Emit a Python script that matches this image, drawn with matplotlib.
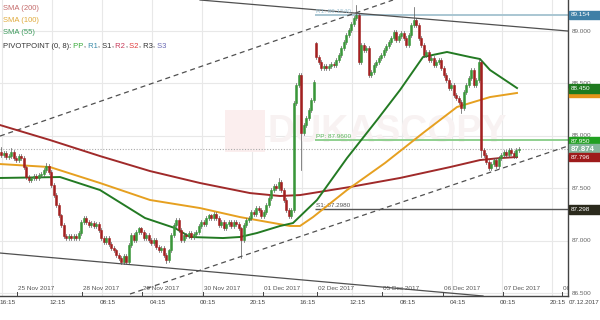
import matplotlib
matplotlib.use("Agg")
import matplotlib.pyplot as plt
from matplotlib.patches import Rectangle
from matplotlib.transforms import blended_transform_factory

plt.rcParams['font.family'] = ['Liberation Sans', 'DejaVu Sans']

# ---- hourly closes ----
closes = [
    87.817, 87.836, 87.798, 87.807, 87.846, 87.788, 87.769, 87.807, 87.788, 87.702,
    87.607, 87.578, 87.597, 87.617, 87.597, 87.626, 87.636, 87.674, 87.712, 87.655,
    87.531, 87.435, 87.340, 87.244, 87.149, 87.044, 87.025, 87.044, 87.025, 87.044,
    87.025, 87.073, 87.178, 87.216, 87.178, 87.149, 87.168, 87.140, 87.159, 87.101,
    87.025, 86.987, 87.025, 86.968, 86.930, 86.910, 86.863, 86.834, 86.796, 86.853,
    86.796, 86.958, 87.054, 87.006, 87.082, 87.120, 87.082, 87.025, 87.054, 87.006,
    86.977, 87.006, 86.939, 86.910, 86.930, 86.863, 86.815, 86.910, 87.054, 87.149,
    87.197, 87.101, 87.006, 87.054, 87.044, 87.073, 87.035, 87.063, 87.082, 87.140,
    87.178, 87.159, 87.216, 87.244, 87.216, 87.254, 87.216, 87.149, 87.178, 87.120,
    87.159, 87.178, 87.140, 87.178, 87.159, 87.120, 87.006, 87.149, 87.197, 87.216,
    87.273, 87.254, 87.311, 87.292, 87.235, 87.273, 87.340, 87.407, 87.483, 87.521,
    87.502, 87.559, 87.483, 87.388, 87.292, 87.235, 87.292, 88.313, 88.485, 88.580,
    88.027, 88.103, 88.170, 88.246, 88.342, 88.514, 88.752, 88.704, 88.647, 88.666,
    88.647, 88.666, 88.685, 88.676, 88.723, 88.771, 88.838, 88.895, 88.962, 89.010,
    89.067, 89.124, 89.153, 88.704, 88.867, 88.819, 88.838, 88.580, 88.609, 88.676,
    88.704, 88.743, 88.771, 88.819, 88.857, 88.895, 88.933, 88.991, 88.914, 88.952,
    88.981, 88.933, 88.867, 88.962, 89.057, 89.105, 89.057, 88.933, 88.867, 88.771,
    88.800, 88.723, 88.743, 88.676, 88.704, 88.723, 88.647, 88.580, 88.533, 88.456,
    88.485, 88.390, 88.361, 88.323, 88.266, 88.418, 88.485, 88.552, 88.628, 88.485,
    88.533, 88.704, 87.865, 87.817, 87.750, 87.693, 87.731, 87.769, 87.712, 87.788,
    87.817, 87.846, 87.817, 87.865, 87.836, 87.807, 87.865, 87.874,
]
first_open = 87.850
session_opens = {126: 88.886}
wick_default = 0.015
high_marks = {0: 87.893, 4: 87.884, 18: 87.741, 111: 87.598, 126: 88.895,
              142: 89.248, 165: 89.229, 191: 88.733, 117: 88.330}
low_marks = {50: 86.777, 66: 86.790, 96: 86.834, 120: 87.674, 184: 88.218,
             192: 87.798, 194: 87.730}

# ---- moving averages: (candle position, price) ----
sma200_x = [0, 20, 40, 60, 80, 100, 112, 120, 140, 160, 180, 192, 200, 206.8]
sma200_y = [88.103, 87.960, 87.807, 87.664, 87.550, 87.454, 87.426, 87.435,
            87.512, 87.598, 87.702, 87.769, 87.788, 87.798]
sma100_x = [0, 20, 40, 60, 80, 96, 116, 120, 125.2, 138.8, 154, 169.2, 182.8, 196, 206.8]
sma100_y = [87.731, 87.702, 87.550, 87.388, 87.311, 87.225, 87.140, 87.140,
            87.225, 87.483, 87.741, 88.027, 88.275, 88.370, 88.409]
sma55_x = [0, 24, 40, 58, 70, 76, 89.2, 96, 102.8, 112, 117.2, 126.8, 138.8,
           150.8, 160, 169.2, 178.8, 188, 192, 196, 206.8]
sma55_y = [87.598, 87.607, 87.483, 87.216, 87.120, 87.035, 87.025, 87.035,
           87.073, 87.140, 87.168, 87.388, 87.788, 88.151, 88.437, 88.752,
           88.800, 88.752, 88.733, 88.628, 88.456]

# ---- pivot levels ----
pivot_names = ['R1', 'PP', 'S1']
pivot_values = [89.1540, 87.9600, 87.2980]
pivot_colors = ['#a9c6d2', '#8fd08f', '#555555']
pivot_text_colors = ['#9cc0d0', '#5cb85c', '#555555']
pivot_start = 126

# ---- trend channels: ((x0, p0), (x1, p1)) ----
solid_channels = [((80.0, 89.296), (227.2, 89.000)),
                  ((0.0, 86.882), (193.2, 86.472))]
dashed_channels = [((0.0, 87.998), (157.2, 89.296)),
                   ((52.0, 86.491), (227.2, 87.903))]

last_price = 87.874

# ---- axis labels ----
price_ticks = [86.5, 87.0, 87.5, 88.0, 88.5, 89.0]
date_labels = ['25 Nov 2017', '28 Nov 2017', '29 Nov 2017', '30 Nov 2017',
               '01 Dec 2017', '02 Dec 2017', '05 Dec 2017', '06 Dec 2017',
               '07 Dec 2017', '08 Dec 2017']
date_pos = [6.8, 32.8, 56.8, 81.2, 105.2, 126.8, 152.8, 177.2, 201.2, 224.8]
time_labels = ['16:15', '12:15', '08:15', '04:15', '00:15', '20:15',
               '16:15', '12:15', '08:15', '04:15', '00:15', '20:15']
time_pos = [3.0 + 20 * k for k in range(12)]
grid_x = [0.8 + 20 * k for k in range(12)]

tag_values = [89.154, 88.450, 87.950, 87.874, 87.796, 87.298]
tag_colors = ['#3f7fa6', '#1f7a1f', '#21a021', '#85b59b', '#9e1b1b', '#2b2a1c']

W, H = 600, 320
fig = plt.figure(figsize=(W / 100, H / 100), dpi=100)
fig.patch.set_facecolor('white')
ax_left, ax_right, ax_bottom, ax_top = 0, 568, 296, 0
ax = fig.add_axes([ax_left / W, (H - ax_bottom) / H, (ax_right - ax_left) / W,
                   (ax_bottom - ax_top) / H])
ymin, ymax = 86.472, 89.296
xmax = 227.2
ax.set_xlim(0, xmax)
ax.set_ylim(ymin, ymax)
for s in ['top', 'left']:
    ax.spines[s].set_visible(False)
ax.spines['right'].set_color('#444444')
ax.spines['bottom'].set_color('#444444')
ax.spines['right'].set_linewidth(1.0)
ax.spines['bottom'].set_linewidth(1.0)
ax.set_xticks([])
ax.set_yticks([])

# grid
for p in price_ticks:
    ax.axhline(p, color='#e8e8e8', lw=0.8, zorder=0)
for gx in grid_x:
    ax.axvline(gx, color='#e8e8e8', lw=0.8, zorder=0)

# watermark
ax.add_patch(Rectangle((90, 87.85), 16, 0.40, color='#fbeeee', zorder=0.5, lw=0))
ax.text(107, 88.04, 'DUKASCOPY', fontsize=27, fontweight='bold', color='#f8f2f2',
        va='center', ha='left', zorder=0.5)

# current price dotted line
ax.axhline(last_price, color='#aaaaaa', lw=0.8, ls=(0, (1, 1.5)), zorder=1)

# pivot lines
for name, val, col, tcol in zip(pivot_names, pivot_values, pivot_colors, pivot_text_colors):
    ax.plot([pivot_start, xmax], [val, val], color=col, lw=1.4 if name != 'S1' else 1.0,
            zorder=2, solid_capstyle='butt')
    ax.text(pivot_start + 0.6, val + 0.012, f'{name}: {val:.4f}', fontsize=4.6,
            color=tcol, va='bottom', ha='left', zorder=3)

# trend channels
for (a, b) in solid_channels:
    ax.plot([a[0], b[0]], [a[1], b[1]], color='#505050', lw=0.9, zorder=2)
for (a, b) in dashed_channels:
    ax.plot([a[0], b[0]], [a[1], b[1]], color='#505050', lw=0.9, zorder=2,
            dashes=(4, 3))

# moving averages
ax.plot(sma200_x, sma200_y, color='#a02a2a', lw=1.4, zorder=4)
ax.plot(sma100_x, sma100_y, color='#e6a020', lw=1.4, zorder=4)
ax.plot(sma55_x, sma55_y, color='#237a23', lw=1.4, zorder=4)

# candles
prev = first_open
for i, c in enumerate(closes):
    o = session_opens.get(i, prev)
    top, bot = max(o, c), min(o, c)
    hi = high_marks.get(i, top + wick_default)
    lo = low_marks.get(i, bot - wick_default)
    up = c >= o
    col = '#3a963a' if up else '#a32020'
    xc = i + 0.5
    ax.plot([xc, xc], [lo, hi], color='#555555', lw=0.5, zorder=5)
    h = max(top - bot, 0.008)
    ax.add_patch(Rectangle((xc - 0.35, bot), 0.7, h, facecolor=col, edgecolor=col,
                           lw=0.4, zorder=6))
    prev = c

# date labels inside the plot area
bx = blended_transform_factory(ax.transData, ax.transAxes)
for lab, xp in zip(date_labels, date_pos):
    ax.text(xp + 0.3, 0.026, lab, transform=bx, fontsize=4.6, color='#555555',
            ha='left', va='center', clip_on=True)
    ax.plot([xp, xp], [0, 0.012], transform=bx, color='#444444', lw=0.7, clip_on=True)

# time labels under the axis
for lab, xp in zip(time_labels, time_pos):
    fig.text(xp * 2.5 / W, 1 - 303 / H, lab, fontsize=4.6, color='#444444',
             ha='center', va='center')
fig.text(569 / W, 1 - 303 / H, '07.12.2017', fontsize=4.4, color='#444444',
         ha='left', va='center')

# price axis labels
by = blended_transform_factory(ax.transAxes, ax.transData)
for p in price_ticks:
    ax.text(1.006, p, f'{p:.3f}', transform=by, fontsize=4.6, color='#666666',
            ha='left', va='center', clip_on=False)

# price tags on the right
bt = blended_transform_factory(fig.transFigure, ax.transData)
pp = (ymax - ymin) / (ax_bottom - ax_top)
for v, col in zip(tag_values, tag_colors):
    big = abs(v - last_price) < 1e-6
    hgt = (10 if big else 8.5) * pp
    if abs(v - 88.450) < 1e-6:
        fig.patches.append(Rectangle((569 / W, 88.409 - 4.5 * pp), 31 / W, 9 * pp,
                                     transform=bt, color='#e6941a', clip_on=False))
    fig.patches.append(Rectangle((569 / W, v - hgt / 2), 31 / W, hgt, transform=bt,
                                 color=col, clip_on=False))
    fig.text(571 / W, v, f'{v:.3f}', transform=bt, fontsize=5.6 if big else 4.6,
             color='white', ha='left', va='center', fontweight='bold' if big else 'normal')

# indicator legend
fig.canvas.draw()
r = fig.canvas.get_renderer()
legend_rows = [([('SMA (200)', '#c46a6a')], 8),
               ([('SMA (100)', '#e0aa3c')], 21),
               ([('SMA (55)', '#3c9a5c')], 33),
               ([('PIVOTPOINT (0, 8):', '#333333'), (' PP', '#3aaa3a'), (',', '#333333'),
                 (' R1', '#3a8aa8'), (',', '#333333'), (' S1', '#333333'), (',', '#333333'),
                 (' R2', '#c83a5a'), (',', '#333333'), (' S2', '#e03a3a'), (',', '#333333'),
                 (' R3', '#333333'), (',', '#333333'), (' S3', '#6a6ab4')], 46)]
for parts, yp in legend_rows:
    x = 3.0
    for txt, col in parts:
        t = fig.text(x / W, 1 - yp / H, txt, fontsize=5.5, color=col, ha='left', va='center')
        x += t.get_window_extent(renderer=r).width

fig.savefig('out.png', dpi=100)
